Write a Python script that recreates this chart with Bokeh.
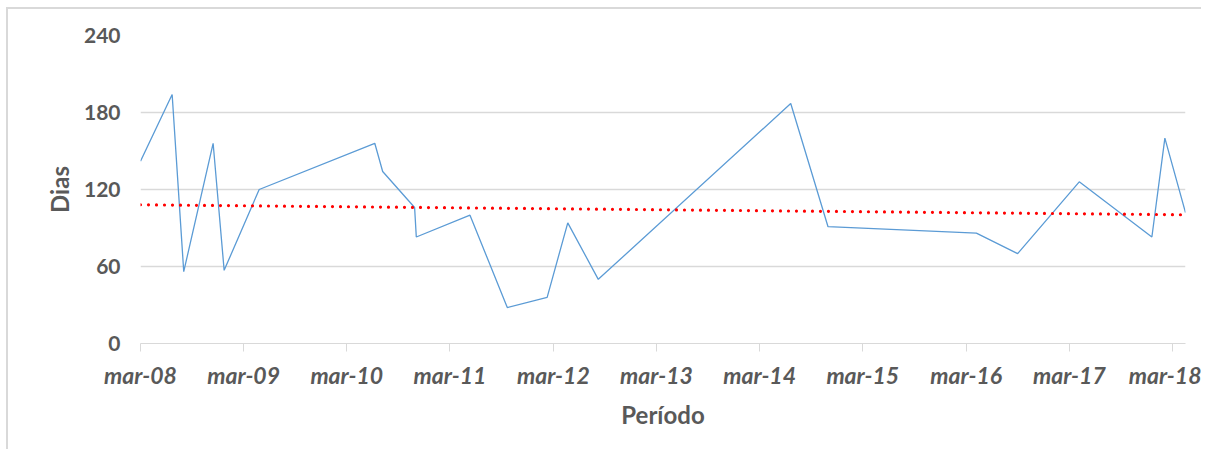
import pandas as pd
from bokeh.plotting import figure
from bokeh.models import FixedTicker, Range1d
from bokeh.embed import file_html
from bokeh.resources import INLINE

# ---- data ----
dates = ["2008-03-01", "2008-06-21", "2008-08-01", "2008-11-13", "2008-12-22",
         "2009-04-25", "2010-06-08", "2010-07-06", "2010-10-27", "2010-11-02",
         "2011-05-11", "2011-09-20", "2012-02-08", "2012-04-21", "2012-08-07",
         "2014-06-19", "2014-10-29", "2016-04-06", "2016-08-30", "2017-04-05",
         "2017-12-18", "2018-02-02", "2018-04-16"]
dias = [142, 194, 56, 156, 57,
        120, 156, 134, 106, 83,
        100, 28, 36, 94, 50,
        187, 91, 86, 70, 126,
        83, 160, 102]
trend_dias = [108.1, 100.3]          # linear trend at first and last date
tick_dates = ["2008-03-01", "2009-03-01", "2010-03-01", "2011-03-01", "2012-03-01",
              "2013-03-01", "2014-03-01", "2015-03-01", "2016-03-01", "2017-03-01",
              "2018-03-01"]
tick_labels = ["mar-08", "mar-09", "mar-10", "mar-11", "mar-12", "mar-13",
               "mar-14", "mar-15", "mar-16", "mar-17", "mar-18"]
y_ticks = [0, 60, 120, 180, 240]
x_title = "Período"
y_title = "Dias"

x = pd.to_datetime(dates)
trend_x = [x[0], x[-1]]
tick_ms = [int(v) // 10**6 for v in pd.to_datetime(tick_dates).astype("int64")]

TXT = "#595959"
GRID = "#d9d9d9"
FONT = "Lato"

p = figure(width=1195, height=442, x_axis_type="datetime",
           output_backend="svg", toolbar_location=None,
           x_range=Range1d(x[0].to_pydatetime(), x[-1].to_pydatetime()),
           y_range=Range1d(0, 240),
           min_border_left=132, min_border_right=18,
           min_border_top=26, min_border_bottom=108)
p.outline_line_color = None
p.background_fill_color = "white"
p.border_fill_color = "white"
p.styles = {"border-left": "2px solid #d9d9d9", "border-top": "2px solid #d9d9d9",
            "margin-left": "6px", "margin-top": "7px"}

p.line(x, dias, line_color="#5B9BD5", line_width=1.3)
p.line(trend_x, trend_dias, line_color="#FF0000", line_width=3.2,
       line_dash="0 8", line_cap="round")

# x axis
xa = p.xaxis[0]
xa.ticker = FixedTicker(ticks=tick_ms)
xa.major_label_overrides = {ms: lab for ms, lab in zip(tick_ms, tick_labels)}
xa.minor_tick_line_color = None
xa.major_tick_in = 0
xa.major_tick_out = 8
xa.major_tick_line_color = GRID
xa.axis_line_color = GRID
xa.major_label_text_font = FONT
xa.major_label_text_font_size = "23px"
xa.major_label_text_font_style = "bold italic"
xa.major_label_text_color = TXT
xa.major_label_standoff = 9
xa.axis_label = x_title
xa.axis_label_text_font = FONT
xa.axis_label_text_font_size = "24px"
xa.axis_label_text_font_style = "bold"
xa.axis_label_text_color = TXT
xa.axis_label_standoff = 8

# y axis
ya = p.yaxis[0]
ya.ticker = FixedTicker(ticks=y_ticks)
ya.minor_tick_line_color = None
ya.major_tick_line_color = None
ya.major_tick_in = 0
ya.major_tick_out = 0
ya.axis_line_color = None
ya.major_label_text_font = FONT
ya.major_label_text_font_size = "21px"
ya.major_label_text_font_style = "bold"
ya.major_label_text_color = TXT
ya.major_label_standoff = 20
ya.axis_label = y_title
ya.axis_label_text_font = FONT
ya.axis_label_text_font_size = "24px"
ya.axis_label_text_font_style = "bold"
ya.axis_label_text_color = TXT
ya.axis_label_standoff = 7

p.xgrid.grid_line_color = None
p.ygrid.grid_line_color = GRID
p.ygrid.grid_line_width = 1.3

open("out.html", "w").write(file_html(p, INLINE))
